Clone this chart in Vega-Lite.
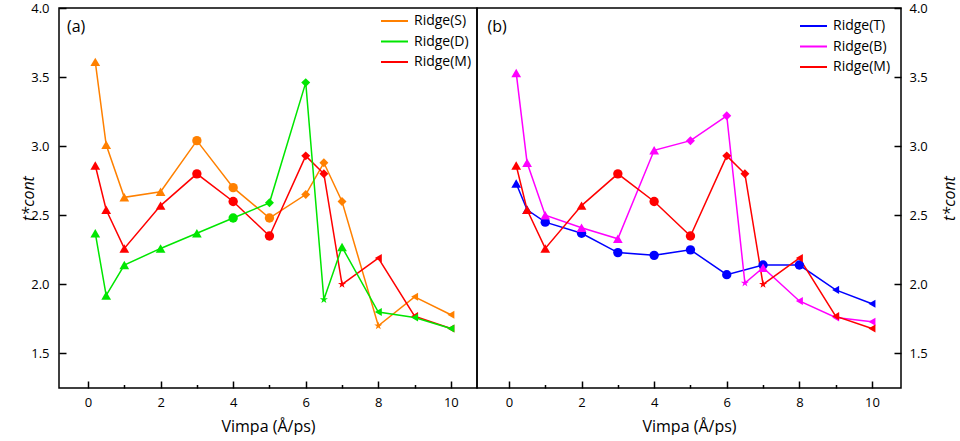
{
  "$schema": "https://vega.github.io/schema/vega-lite/v6.json",
  "padding": {"left": 19, "top": 1, "right": 0, "bottom": 0},
  "spacing": 0,
  "bounds": "flush",
  "datasets": {
    "pts": [
      {"panel":"a","series":"Ridge(S)","v":0.2,"t":3.61,"kind":"up"},
      {"panel":"a","series":"Ridge(S)","v":0.5,"t":3.01,"kind":"up"},
      {"panel":"a","series":"Ridge(S)","v":1,"t":2.63,"kind":"up"},
      {"panel":"a","series":"Ridge(S)","v":2,"t":2.67,"kind":"up"},
      {"panel":"a","series":"Ridge(S)","v":3,"t":3.04,"kind":"circle"},
      {"panel":"a","series":"Ridge(S)","v":4,"t":2.70,"kind":"circle"},
      {"panel":"a","series":"Ridge(S)","v":5,"t":2.48,"kind":"circle"},
      {"panel":"a","series":"Ridge(S)","v":6,"t":2.65,"kind":"diamond"},
      {"panel":"a","series":"Ridge(S)","v":6.5,"t":2.88,"kind":"diamond"},
      {"panel":"a","series":"Ridge(S)","v":7,"t":2.60,"kind":"diamond"},
      {"panel":"a","series":"Ridge(S)","v":8,"t":1.70,"kind":"star"},
      {"panel":"a","series":"Ridge(S)","v":9,"t":1.91,"kind":"left"},
      {"panel":"a","series":"Ridge(S)","v":10,"t":1.78,"kind":"left"},

      {"panel":"a","series":"Ridge(M)","v":0.2,"t":2.86,"kind":"up"},
      {"panel":"a","series":"Ridge(M)","v":0.5,"t":2.54,"kind":"up"},
      {"panel":"a","series":"Ridge(M)","v":1,"t":2.26,"kind":"up"},
      {"panel":"a","series":"Ridge(M)","v":2,"t":2.57,"kind":"up"},
      {"panel":"a","series":"Ridge(M)","v":3,"t":2.80,"kind":"circle"},
      {"panel":"a","series":"Ridge(M)","v":4,"t":2.60,"kind":"circle"},
      {"panel":"a","series":"Ridge(M)","v":5,"t":2.35,"kind":"circle"},
      {"panel":"a","series":"Ridge(M)","v":6,"t":2.93,"kind":"diamond"},
      {"panel":"a","series":"Ridge(M)","v":6.5,"t":2.80,"kind":"diamond"},
      {"panel":"a","series":"Ridge(M)","v":7,"t":2.00,"kind":"star"},
      {"panel":"a","series":"Ridge(M)","v":8,"t":2.19,"kind":"left"},
      {"panel":"a","series":"Ridge(M)","v":9,"t":1.77,"kind":"left"},
      {"panel":"a","series":"Ridge(M)","v":10,"t":1.68,"kind":"left"},

      {"panel":"a","series":"Ridge(D)","v":0.2,"t":2.37,"kind":"up"},
      {"panel":"a","series":"Ridge(D)","v":0.5,"t":1.92,"kind":"up"},
      {"panel":"a","series":"Ridge(D)","v":1,"t":2.14,"kind":"up"},
      {"panel":"a","series":"Ridge(D)","v":2,"t":2.26,"kind":"up"},
      {"panel":"a","series":"Ridge(D)","v":3,"t":2.37,"kind":"up"},
      {"panel":"a","series":"Ridge(D)","v":4,"t":2.48,"kind":"circle"},
      {"panel":"a","series":"Ridge(D)","v":5,"t":2.59,"kind":"diamond"},
      {"panel":"a","series":"Ridge(D)","v":6,"t":3.46,"kind":"diamond"},
      {"panel":"a","series":"Ridge(D)","v":6.5,"t":1.89,"kind":"star"},
      {"panel":"a","series":"Ridge(D)","v":7,"t":2.27,"kind":"up"},
      {"panel":"a","series":"Ridge(D)","v":8,"t":1.80,"kind":"left"},
      {"panel":"a","series":"Ridge(D)","v":9,"t":1.76,"kind":"left"},
      {"panel":"a","series":"Ridge(D)","v":10,"t":1.68,"kind":"left"},

      {"panel":"b","series":"Ridge(T)","v":0.2,"t":2.73,"kind":"up"},
      {"panel":"b","series":"Ridge(T)","v":0.5,"t":2.54,"kind":"up"},
      {"panel":"b","series":"Ridge(T)","v":1,"t":2.45,"kind":"circle"},
      {"panel":"b","series":"Ridge(T)","v":2,"t":2.37,"kind":"circle"},
      {"panel":"b","series":"Ridge(T)","v":3,"t":2.23,"kind":"circle"},
      {"panel":"b","series":"Ridge(T)","v":4,"t":2.21,"kind":"circle"},
      {"panel":"b","series":"Ridge(T)","v":5,"t":2.25,"kind":"circle"},
      {"panel":"b","series":"Ridge(T)","v":6,"t":2.07,"kind":"circle"},
      {"panel":"b","series":"Ridge(T)","v":7,"t":2.14,"kind":"circle"},
      {"panel":"b","series":"Ridge(T)","v":8,"t":2.14,"kind":"circle"},
      {"panel":"b","series":"Ridge(T)","v":9,"t":1.96,"kind":"left"},
      {"panel":"b","series":"Ridge(T)","v":10,"t":1.86,"kind":"left"},

      {"panel":"b","series":"Ridge(B)","v":0.2,"t":3.53,"kind":"up"},
      {"panel":"b","series":"Ridge(B)","v":0.5,"t":2.88,"kind":"up"},
      {"panel":"b","series":"Ridge(B)","v":1,"t":2.50,"kind":"up"},
      {"panel":"b","series":"Ridge(B)","v":2,"t":2.41,"kind":"up"},
      {"panel":"b","series":"Ridge(B)","v":3,"t":2.33,"kind":"up"},
      {"panel":"b","series":"Ridge(B)","v":4,"t":2.97,"kind":"up"},
      {"panel":"b","series":"Ridge(B)","v":5,"t":3.04,"kind":"diamond"},
      {"panel":"b","series":"Ridge(B)","v":6,"t":3.22,"kind":"diamond"},
      {"panel":"b","series":"Ridge(B)","v":6.5,"t":2.01,"kind":"star"},
      {"panel":"b","series":"Ridge(B)","v":7,"t":2.12,"kind":"up"},
      {"panel":"b","series":"Ridge(B)","v":8,"t":1.88,"kind":"left"},
      {"panel":"b","series":"Ridge(B)","v":9,"t":1.76,"kind":"left"},
      {"panel":"b","series":"Ridge(B)","v":10,"t":1.73,"kind":"left"},

      {"panel":"b","series":"Ridge(M)","v":0.2,"t":2.86,"kind":"up"},
      {"panel":"b","series":"Ridge(M)","v":0.5,"t":2.54,"kind":"up"},
      {"panel":"b","series":"Ridge(M)","v":1,"t":2.26,"kind":"up"},
      {"panel":"b","series":"Ridge(M)","v":2,"t":2.57,"kind":"up"},
      {"panel":"b","series":"Ridge(M)","v":3,"t":2.80,"kind":"circle"},
      {"panel":"b","series":"Ridge(M)","v":4,"t":2.60,"kind":"circle"},
      {"panel":"b","series":"Ridge(M)","v":5,"t":2.35,"kind":"circle"},
      {"panel":"b","series":"Ridge(M)","v":6,"t":2.93,"kind":"diamond"},
      {"panel":"b","series":"Ridge(M)","v":6.5,"t":2.80,"kind":"diamond"},
      {"panel":"b","series":"Ridge(M)","v":7,"t":2.00,"kind":"star"},
      {"panel":"b","series":"Ridge(M)","v":8,"t":2.19,"kind":"left"},
      {"panel":"b","series":"Ridge(M)","v":9,"t":1.77,"kind":"left"},
      {"panel":"b","series":"Ridge(M)","v":10,"t":1.68,"kind":"left"}
    ]
  },
  "resolve": {"scale": {"color": "independent", "x": "independent", "y": "independent"}, "legend": {"color": "independent"}},
  "hconcat": [
    {
      "width": 418,
      "height": 380,
      "data": {"name": "pts"},
      "transform": [{"filter": "datum.panel == 'a'"}],
      "layer": [
        {
          "mark": {"type": "line", "strokeWidth": 1.5},
          "encoding": {
            "x": {"field": "v", "type": "quantitative", "scale": {"domain": [-0.8, 10.72], "nice": false, "zero": false},
              "axis": {"orient": "bottom", "title": "Vimpa (Å/ps)", "values": [0,1,2,3,4,5,6,7,8,9,10],
                "labelExpr": "datum.value % 2 == 0 ? datum.label : ''",
                "tickSize": {"condition": {"test": "datum.value % 2 != 0", "value": -3.5}, "value": -7},
                "labelPadding": 15, "titlePadding": 9}},
            "y": {"field": "t", "type": "quantitative", "scale": {"domain": [1.25, 4.0], "nice": false, "zero": false},
              "axis": {"orient": "left", "title": "t*cont", "titleFontStyle": "italic",
                "values": [1.5,1.75,2,2.25,2.5,2.75,3,3.25,3.5,3.75,4],
                "labelExpr": "(datum.value * 2) % 1 == 0 ? format(datum.value, '.1f') : ''",
                "tickSize": {"condition": {"test": "(datum.value * 2) % 1 != 0", "value": -3.5}, "value": -7},
                "labelPadding": 17, "titlePadding": -6}},
            "color": {"field": "series", "type": "nominal",
              "scale": {"domain": ["Ridge(S)", "Ridge(D)", "Ridge(M)"], "range": ["#ff8000", "#00e600", "#ff0000"]},
              "legend": {"orient": "top-right", "offset": 5, "title": null, "symbolType": "stroke", "symbolSize": 729, "symbolStrokeWidth": 2, "clipHeight": 16, "rowPadding": 4.5, "labelOffset": 5, "labelFontSize": 14, "labelColor": "black", "padding": 0}},
            "detail": {"field": "series"}
          }
        },
        {
          "mark": {"type": "point", "filled": true, "opacity": 1},
          "encoding": {
            "x": {"field": "v", "type": "quantitative"},
            "y": {"field": "t", "type": "quantitative"},
            "color": {"field": "series", "type": "nominal"},
            "shape": {"field": "kind", "type": "nominal", "legend": null,
              "scale": {"domain": ["up", "circle", "diamond", "star", "left"],
                "range": ["triangle-up", "circle", "diamond", "M0,-1L0.2245,-0.309L0.951,-0.309L0.363,0.118L0.588,0.809L0,0.382L-0.588,0.809L-0.363,0.118L-0.951,-0.309L-0.2245,-0.309Z", "triangle-left"]}},
            "size": {"field": "kind", "type": "nominal", "legend": null,
              "scale": {"domain": ["up", "circle", "diamond", "star", "left"], "range": [95, 65, 85, 95, 95]}}
          }
        },
        {
          "data": {"values": [{"label": "(a)"}]},
          "mark": {"type": "text", "align": "left", "baseline": "middle", "fontSize": 16, "color": "black"},
          "encoding": {
            "x": {"datum": -0.58, "type": "quantitative"},
            "y": {"datum": 3.86, "type": "quantitative"},
            "text": {"field": "label"}
          }
        }
      ]
    },
    {
      "width": 424,
      "height": 380,
      "data": {"name": "pts"},
      "transform": [{"filter": "datum.panel == 'b'"}],
      "layer": [
        {
          "mark": {"type": "line", "strokeWidth": 1.5},
          "encoding": {
            "x": {"field": "v", "type": "quantitative", "scale": {"domain": [-0.88, 10.8], "nice": false, "zero": false},
              "axis": {"orient": "bottom", "title": "Vimpa (Å/ps)", "values": [0,1,2,3,4,5,6,7,8,9,10],
                "labelExpr": "datum.value % 2 == 0 ? datum.label : ''",
                "tickSize": {"condition": {"test": "datum.value % 2 != 0", "value": -3.5}, "value": -7},
                "labelPadding": 15, "titlePadding": 9}},
            "y": {"field": "t", "type": "quantitative", "scale": {"domain": [1.25, 4.0], "nice": false, "zero": false},
              "axis": {"orient": "right", "title": "t*cont", "titleFontStyle": "italic", "titleAngle": 270,
                "titleX": 48, "titleY": 190, "titleBaseline": "middle", "titleAlign": "center",
                "values": [1.5,1.75,2,2.25,2.5,2.75,3,3.25,3.5,3.75,4],
                "labelExpr": "(datum.value * 2) % 1 == 0 ? format(datum.value, '.1f') : ''",
                "tickSize": {"condition": {"test": "(datum.value * 2) % 1 != 0", "value": -3.5}, "value": -7},
                "labelPadding": 15}},
            "color": {"field": "series", "type": "nominal",
              "scale": {"domain": ["Ridge(T)", "Ridge(B)", "Ridge(M)"], "range": ["#0000ff", "#ff00ff", "#ff0000"]},
              "legend": {"orient": "top-right", "offset": 10, "title": null, "symbolType": "stroke", "symbolSize": 729, "symbolStrokeWidth": 2, "clipHeight": 16, "rowPadding": 4.5, "labelOffset": 5, "labelFontSize": 14, "labelColor": "black", "padding": 0}},
            "detail": {"field": "series"}
          }
        },
        {
          "mark": {"type": "point", "filled": true, "opacity": 1},
          "encoding": {
            "x": {"field": "v", "type": "quantitative"},
            "y": {"field": "t", "type": "quantitative"},
            "color": {"field": "series", "type": "nominal"},
            "shape": {"field": "kind", "type": "nominal", "legend": null,
              "scale": {"domain": ["up", "circle", "diamond", "star", "left"],
                "range": ["triangle-up", "circle", "diamond", "M0,-1L0.2245,-0.309L0.951,-0.309L0.363,0.118L0.588,0.809L0,0.382L-0.588,0.809L-0.363,0.118L-0.951,-0.309L-0.2245,-0.309Z", "triangle-left"]}},
            "size": {"field": "kind", "type": "nominal", "legend": null,
              "scale": {"domain": ["up", "circle", "diamond", "star", "left"], "range": [95, 65, 85, 95, 95]}}
          }
        },
        {
          "data": {"values": [{"label": "(b)"}]},
          "mark": {"type": "text", "align": "left", "baseline": "middle", "fontSize": 16, "color": "black"},
          "encoding": {
            "x": {"datum": -0.59, "type": "quantitative"},
            "y": {"datum": 3.86, "type": "quantitative"},
            "text": {"field": "label"}
          }
        }
      ]
    }
  ],
  "config": {
    "font": "Open Sans",
    "view": {"stroke": "black", "strokeWidth": 1.5},
    "axis": {"grid": false, "domain": false, "ticks": true, "labelColor": "black", "tickColor": "black", "tickWidth": 1.5,
      "labelFontSize": 13, "titleFontSize": 16, "titleFontWeight": "normal", "titleColor": "black"},
    "legend": {"labelFont": "Open Sans"}
  }
}
